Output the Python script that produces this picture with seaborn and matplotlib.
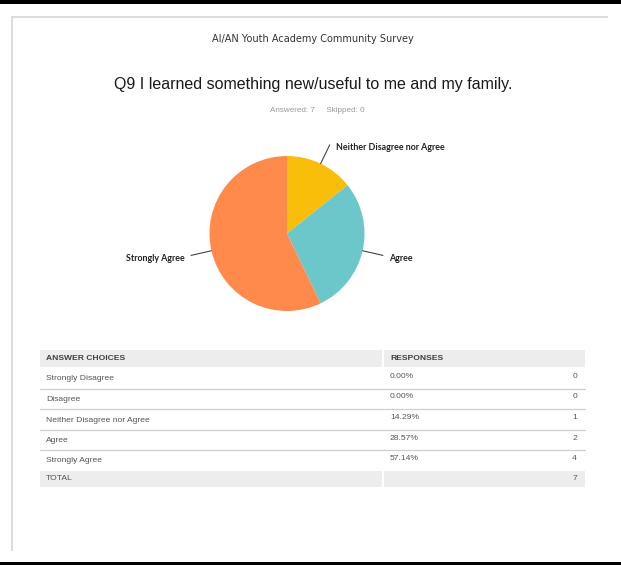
import matplotlib
matplotlib.use("Agg")
import matplotlib.pyplot as plt
from matplotlib.patches import Rectangle
import numpy as np
import seaborn as sns

sns.set_theme(style="white")
plt.rcParams["font.family"] = ["Liberation Sans", "DejaVu Sans"]

# Survey data
survey_title = "AI/AN Youth Academy Community Survey"
question = "Q9 I learned something new/useful to me and my family."
answered = 7
skipped = 0
choices = ["Strongly Disagree", "Disagree", "Neither Disagree nor Agree",
           "Agree", "Strongly Agree"]
counts = [0, 0, 1, 2, 4]
percents = ["0.00%", "0.00%", "14.29%", "28.57%", "57.14%"]

pie_labels = ["Neither Disagree nor Agree", "Agree", "Strongly Agree"]
pie_counts = [1, 2, 4]
pie_colors = ["#F8BE0A", "#6CC7CB", "#FF8A4C"]

W, H = 621, 565
fig = plt.figure(figsize=(W / 100, H / 100), dpi=100)
fig.patch.set_facecolor("white")

# Full-figure overlay in pixel coordinates for frame, titles and table
bg = fig.add_axes([0, 0, 1, 1])
bg.set_xlim(0, W)
bg.set_ylim(H, 0)
bg.axis("off")

# page frame
bg.add_patch(Rectangle((0, 0), W, 3.7, color="black", lw=0))
bg.add_patch(Rectangle((0, 562), W, 3, color="black", lw=0))
bg.add_patch(Rectangle((11, 15.8), 597, 2.2, color="#DCDCDC", lw=0))
bg.add_patch(Rectangle((11, 15.8), 1.8, 535, color="#DCDCDC", lw=0))

bg.text(313, 38.5, survey_title, ha="center", va="center", fontsize=7.0,
        color="#333333", family=["DejaVu Sans"])
bg.text(313, 84, question, ha="center", va="center", fontsize=11.5,
        color="#1a1a1a")
bg.text(317, 110, f"Answered: {answered}     Skipped: {skipped}",
        ha="center", va="center", fontsize=5.9, color="#9a9a9a")

# table
fs = 6.1
tx0, tx1, tdiv = 40, 585, 383
bg.add_patch(Rectangle((tx0, 350), tx1 - tx0, 16.5, color="#EDEDED", lw=0))
bg.add_patch(Rectangle((tdiv - 1, 350), 2, 16.5, color="white", lw=0))
bg.text(46, 358.5, "ANSWER CHOICES", ha="left", va="center", fontsize=fs,
        color="#404040", fontweight="bold")
bg.text(390, 358.5, "RESPONSES", ha="left", va="center", fontsize=fs,
        color="#404040", fontweight="bold")

row_y = [379, 399.5, 420, 440.5, 461]
sep_y = [388.5, 409, 429.5, 450]
for y in sep_y:
    bg.plot([tx0, tx1], [y, y], color="#CFCFCF", lw=0.9)
for y, c, p, n in zip(row_y, choices, percents, counts):
    bg.text(46, y, c, ha="left", va="center", fontsize=fs, color="#555555")
    bg.text(390, y - 2.5, p, ha="left", va="center", fontsize=fs,
            color="#555555")
    bg.text(577, y - 2.5, str(n), ha="right", va="center", fontsize=fs,
            color="#555555")

bg.add_patch(Rectangle((tx0, 470.5), tx1 - tx0, 16.5, color="#EDEDED", lw=0))
bg.add_patch(Rectangle((tdiv - 1, 470.5), 2, 16.5, color="white", lw=0))
bg.text(46, 479, "TOTAL", ha="left", va="center", fontsize=fs,
        color="#555555")
bg.text(577, 479, str(sum(counts)), ha="right", va="center", fontsize=fs,
        color="#555555")

# pie chart
cx, cy, r = 287, 233.5, 77.5
ax = fig.add_axes([(cx - r) / W, (H - cy - r) / H, 2 * r / W, 2 * r / H])
wedges, _ = ax.pie(pie_counts, colors=pie_colors, startangle=90,
                   counterclock=False, radius=1.0,
                   wedgeprops=dict(linewidth=0))
ax.set_xlim(-1, 1)
ax.set_ylim(-1, 1)
ax.axis("off")

for w, lab in zip(wedges, pie_labels):
    ang = np.deg2rad((w.theta1 + w.theta2) / 2)
    x0, y0 = np.cos(ang), np.sin(ang)
    x1, y1 = 1.27 * np.cos(ang), 1.27 * np.sin(ang)
    ax.plot([x0, x1], [y0, y1], color="#444444", lw=0.8, clip_on=False)
    side = 1 if x1 > 0 else -1
    ax.text(x1 + side * 0.08, y1 - 0.035, lab,
            ha="left" if side > 0 else "right",
            va="center", fontsize=6.4, fontweight="bold", color="#222222",
            family=["Lato", "DejaVu Sans"], clip_on=False)

fig.savefig("out.png", dpi=100, facecolor="white")
